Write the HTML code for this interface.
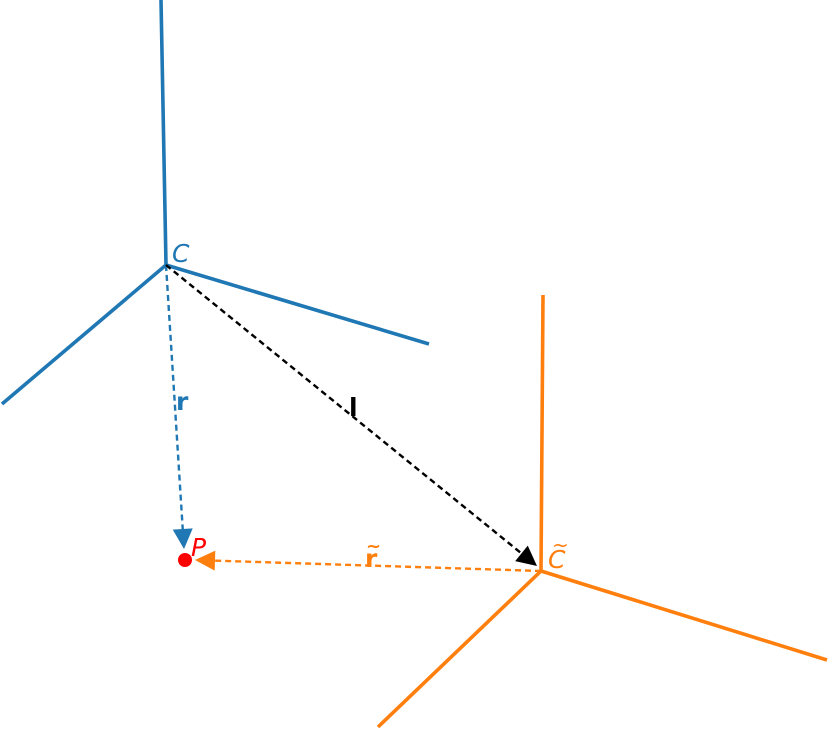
<!DOCTYPE html>
<html><head><meta charset="utf-8"><style>
html,body{margin:0;padding:0;background:#fff;}
svg{display:block;}
text{font-family:"DejaVu Sans","Liberation Sans",sans-serif;}
</style></head><body>
<svg id="chart" width="828" height="730" viewBox="0 0 828 730" xmlns="http://www.w3.org/2000/svg">
<g id="g"></g>
<text x="172" y="262" fill="#1f77b4" font-size="25" font-style="italic">C</text>
<text x="548" y="568" fill="#ff7f0e" font-size="25" font-style="italic">C</text>
<text x="552" y="552" fill="#ff7f0e" font-size="20">~</text>
<text x="176" y="410" fill="#1f77b4" font-size="25" font-weight="bold">r</text>
<text x="349" y="416" fill="#000" font-size="25" font-weight="bold">l</text>
<text x="365" y="567" fill="#ff7f0e" font-size="25" font-weight="bold">r</text>
<text x="366" y="552" fill="#ff7f0e" font-size="18" font-weight="bold">~</text>
<text x="191" y="556" fill="#ff0000" font-size="25" font-style="italic">P</text>
</svg>
<script>
const frameC = [166,265];
const axesC = [[161,0],[429,344],[2,404]];
const frameCt = [541,571];
const axesCt = [[543,295],[827,660],[378,727]];
const pointP = [185,560];
const g = document.getElementById('g');
const NS='http://www.w3.org/2000/svg';
function line(a,b,col,w,dash,name){
  const l=document.createElementNS(NS,'line');
  l.setAttribute('x1',a[0]);l.setAttribute('y1',a[1]);l.setAttribute('x2',b[0]);l.setAttribute('y2',b[1]);
  l.setAttribute('stroke',col);l.setAttribute('stroke-width',w);
  if(dash)l.setAttribute('stroke-dasharray',dash);
  
  
  g.appendChild(l);
}
function arrow(a,b,col,name){
  const dx=b[0]-a[0],dy=b[1]-a[1],L=Math.hypot(dx,dy),ux=dx/L,uy=dy/L;
  const base=[b[0]-ux*20,b[1]-uy*20];
  line(a,base,col,2.4,'6,4',name+'-shaft');
  const p=document.createElementNS(NS,'polygon');
  const px=-uy,py=ux;
  p.setAttribute('points',`${b[0]},${b[1]} ${base[0]+px*10},${base[1]+py*10} ${base[0]-px*10},${base[1]-py*10}`);
  p.setAttribute('fill',col);
  
  
  g.appendChild(p);
}
axesC.forEach((e,i)=>line(frameC,e,'#1f77b4',3.6,null,'frame-c-axis-'+i));
axesCt.forEach((e,i)=>line(frameCt,e,'#ff7f0e',3.6,null,'frame-c-tilde-axis-'+i));
arrow(frameC,[184,549],'#1f77b4','vector-r');
arrow(frameC,[537,566],'#000','vector-l');
arrow(frameCt,[195,560],'#ff7f0e','vector-r-tilde');
const c=document.createElementNS(NS,'circle');
c.setAttribute('cx',pointP[0]);c.setAttribute('cy',pointP[1]);c.setAttribute('r',7);c.setAttribute('fill','#ff0000');


g.appendChild(c);
</script>
</body></html>
